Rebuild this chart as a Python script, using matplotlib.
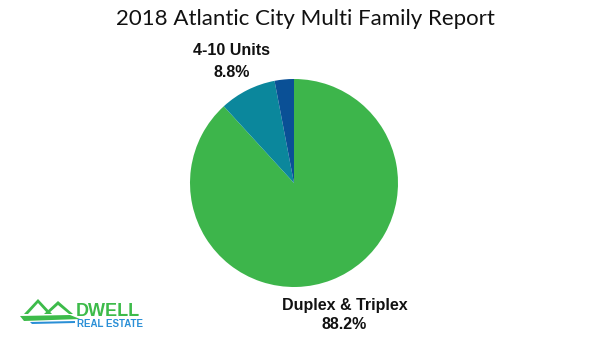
import matplotlib.pyplot as plt
from matplotlib.patches import Polygon

labels = ['Duplex & Triplex', '4-10 Units', '']
shares = [88.2, 8.8, 3.0]
pct_text = ['88.2%', '8.8%', '']
colors = ['#3db54b', '#0b879c', '#0a5096']

fig = plt.figure(figsize=(6.10, 3.39), dpi=100)
fig.patch.set_facecolor('white')

# pie area: center ~(294,183) px, radius ~104 px
cx, cy, r = 294, 183, 104
ax = fig.add_axes([(cx - r) / 610, (339 - (cy + r)) / 339, 2 * r / 610, 2 * r / 339])
wedges, _ = ax.pie(shares, colors=colors, startangle=90, counterclock=False,
                   wedgeprops=dict(linewidth=0))
ax.set_aspect('equal')
ax.set_xlim(-1, 1)
ax.set_ylim(-1, 1)

lab_style = dict(ha='center', va='center', fontsize=11.5, fontweight='bold',
                 family='Liberation Sans', color='#111111')
ax.text(-0.60, 1.27, labels[1], **lab_style)
ax.text(-0.60, 1.06, pct_text[1], **lab_style)
ax.text(0.486, -1.175, labels[0], **lab_style)
ax.text(0.486, -1.365, pct_text[0], **lab_style)

fig.text(305 / 610, 1 - 19 / 339, '2018 Atlantic City Multi Family Report',
         ha='center', va='center', fontsize=16, family='Lato', color='#111111')

# small logo bottom-left
def px(x, y):
    return (x / 610, 1 - y / 339)

roof1 = [px(24, 314), px(38, 299), px(52, 314), px(48, 314), px(38, 303), px(28, 314)]
roof2 = [px(44, 314), px(58, 301), px(73, 314), px(69, 314), px(58, 305), px(48, 314)]
for rf in (roof1, roof2):
    fig.patches.append(Polygon(rf, closed=True, transform=fig.transFigure,
                               facecolor='#3dbb4a', edgecolor='none'))
swoosh = [px(20, 316), px(70, 315), px(80, 319), px(24, 321)]
fig.patches.append(Polygon(swoosh, closed=True, transform=fig.transFigure,
                           facecolor='#3dbb4a', edgecolor='none'))
fig.patches.append(Polygon([px(30, 322), px(75, 321), px(75, 323), px(32, 324)],
                           closed=True, transform=fig.transFigure,
                           facecolor='#2a8fd6', edgecolor='none'))
fig.text(76 / 610, 1 - 312 / 339, 'DWELL', ha='left', va='center', fontsize=13,
         fontweight='bold', family='Liberation Sans', color='#3dbb4a')
fig.text(77 / 610, 1 - 324 / 339, 'REAL ESTATE', ha='left', va='center', fontsize=7,
         fontweight='bold', family='Liberation Sans', color='#2a8fd6')

fig.savefig('out.png', dpi=100, facecolor='white')
